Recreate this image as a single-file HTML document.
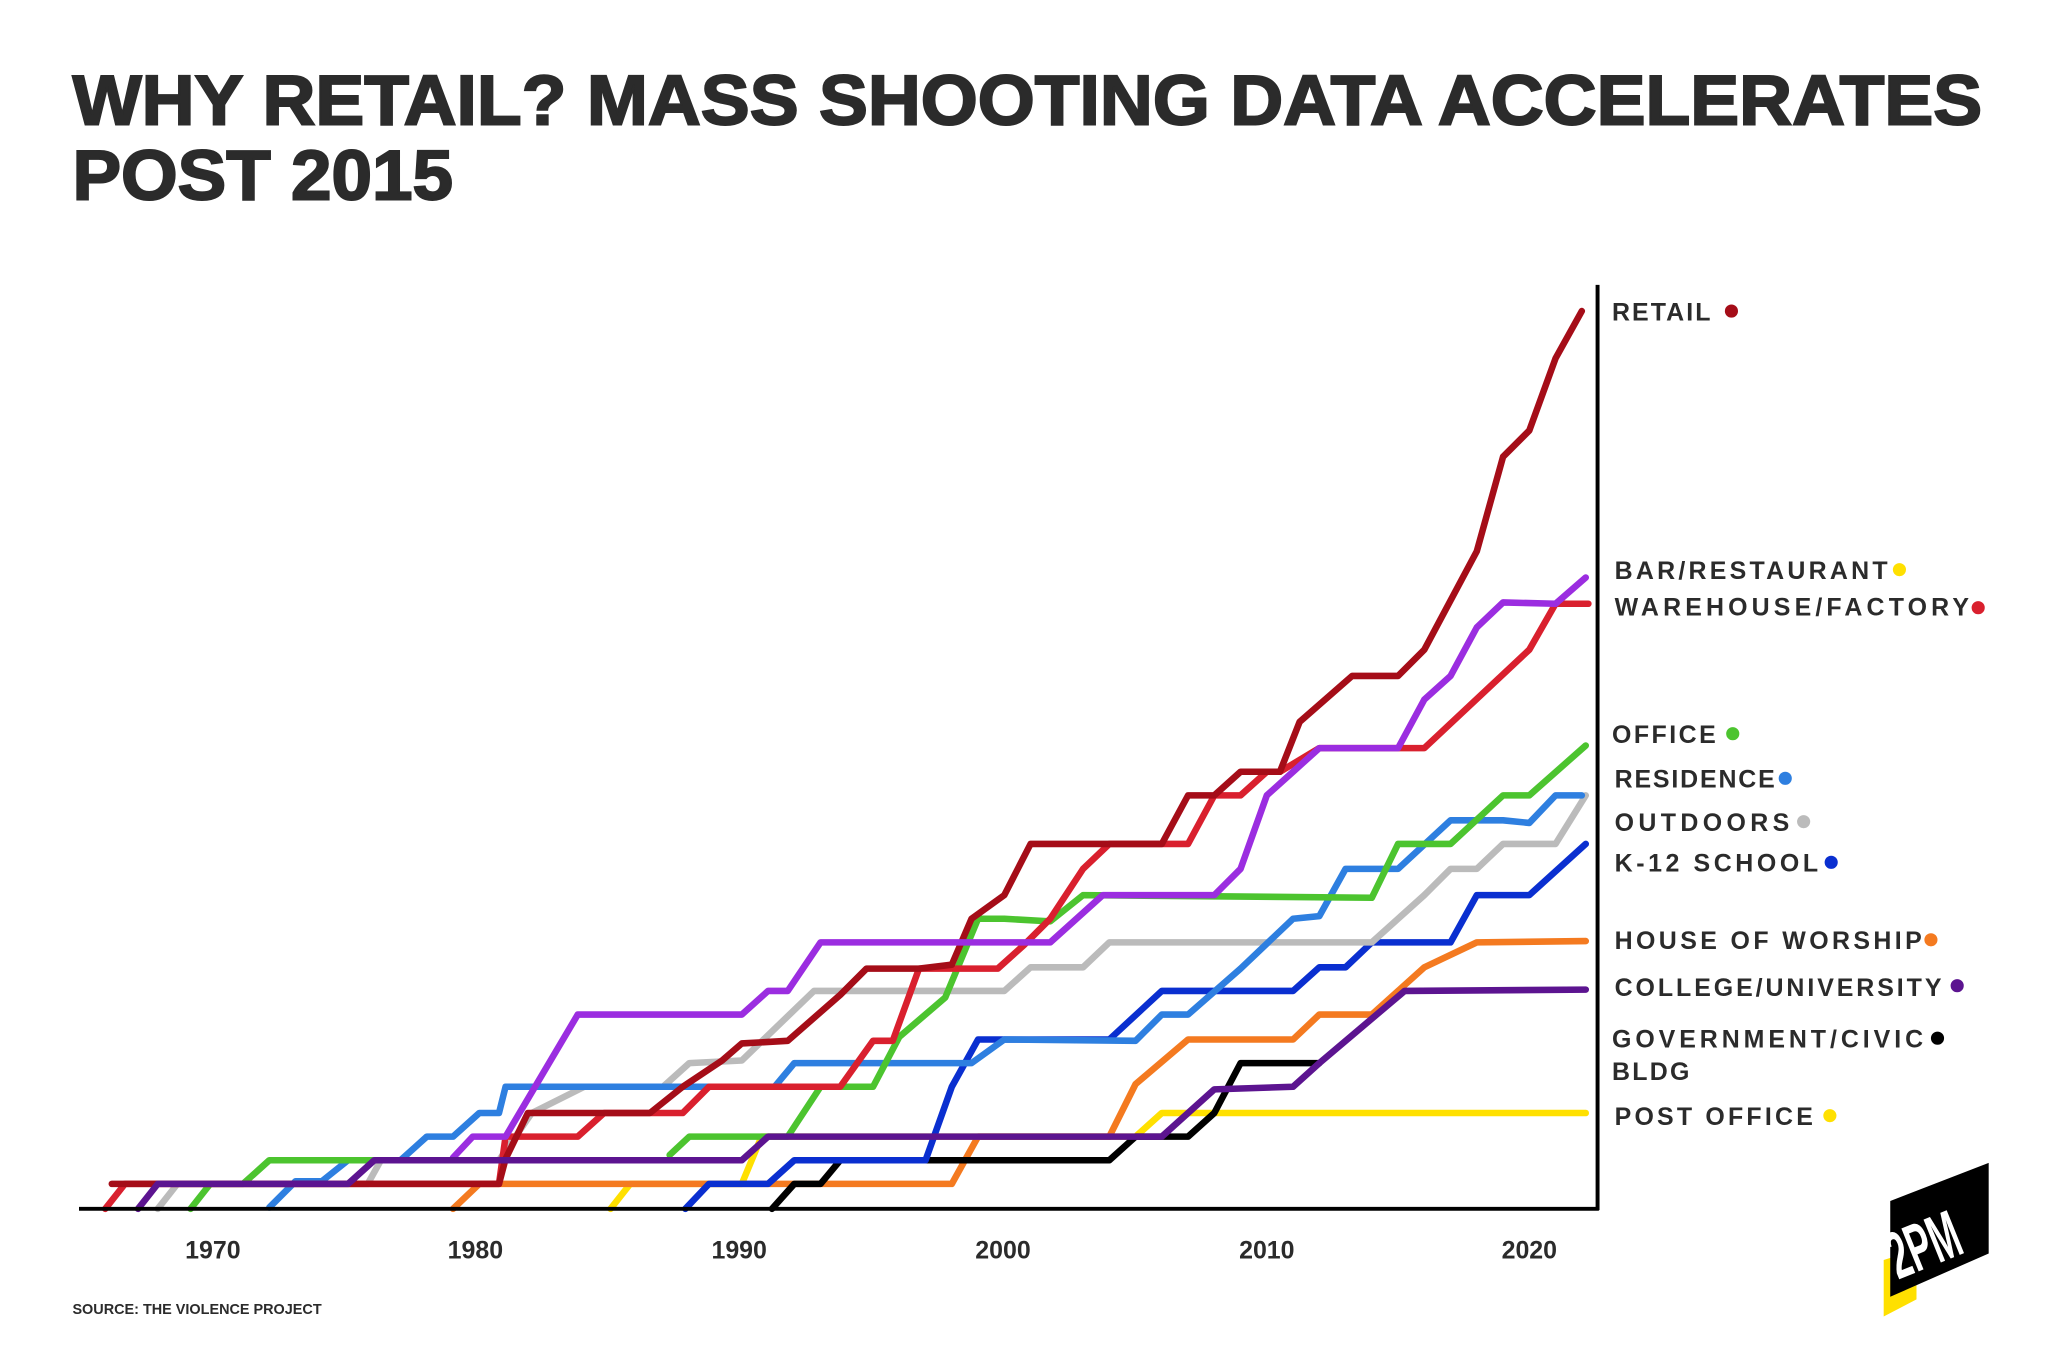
<!DOCTYPE html>
<html><head><meta charset="utf-8"><style>
html,body{margin:0;padding:0;background:#fff}
svg{display:block}
text{font-family:"Liberation Sans",sans-serif;font-weight:bold;fill:#2b2b2b}
</style></head><body>
<svg width="2048" height="1365" viewBox="0 0 1560 1040" xmlns="http://www.w3.org/2000/svg">
<rect width="1560" height="1040" fill="#fff"/>
<text x="55" y="95" font-size="54" textLength="1455" lengthAdjust="spacingAndGlyphs" stroke="#2b2b2b" stroke-width="1.5">WHY RETAIL? MASS SHOOTING DATA ACCELERATES</text>
<text x="55" y="152" font-size="54" textLength="290" lengthAdjust="spacingAndGlyphs" stroke="#2b2b2b" stroke-width="1.5">POST 2015</text>
<g fill="none" stroke-width="5" stroke-linejoin="round" stroke-linecap="round">
<polyline stroke="#ffe000" points="465,921 480,902 565,902 580,866 865,866 885,848 1208,848"/>
<polyline stroke="#f47a20" points="345,921 365,902 725,902 745,866 845,866 865,826 905,792 985,792 1005,773 1045,773 1065,755 1085,737 1125,718 1208,717"/>
<polyline stroke="#000" points="588,921 605,902 625,902 640,884 845,884 865,866 905,866 925,848 945,810 1005,810"/>
<polyline stroke="#0a2fd0" points="522,921 540,902 585,902 605,884 705,884 725,828 745,792 845,792 885,755 985,755 1005,737 1025,737 1045,718 1105,718 1125,682 1165,682 1208,643"/>
<polyline stroke="#bbbbbb" points="120,921 135,902 265,902 280,902 290,884 380,884 405,848 445,828 505,828 525,810 565,808 620,755 765,755 785,737 825,737 845,718 1045,718 1085,682 1105,662 1125,662 1145,643 1185,643 1208,606"/>
<polyline stroke="#2e7fe0" points="205,920 225,900 245,900 265,884 305,884 325,866 345,866 365,848 380,848 385,828 590,828 605,810 740,810 765,792 865,793 885,773 905,773 945,738 985,700 1005,698 1025,662 1065,662 1105,625 1145,625 1165,627 1185,606 1205,606"/>
<polyline stroke="#4cc42f" points="145,921 160,902 185,902 205,884 285,884"/>
<polyline stroke="#4cc42f" points="510,880 525,866 600,866 625,828 665,828 685,790 720,760 745,700 765,700 800,702 825,682 1045,684 1065,643 1105,643 1145,606 1165,606 1208,568"/>
<polyline stroke="#d9202e" points="80,921 95,902 380,902 385,866 440,866 460,848 520,848 540,828 640,828 665,793 680,793 700,738 760,738 780,720 800,700 825,662 845,643 905,643 925,606 945,606 965,588 975,588 1005,570 1085,570 1165,495 1185,460 1210,460"/>
<polyline stroke="#a50d18" points="85,902 380,902 385,883 402,848 495,848 520,828 550,808 565,795 600,793 640,758 660,738 700,738 725,735 740,700 765,682 785,643 885,643 905,606 925,606 945,588 975,588 990,550 1030,515 1065,515 1085,495 1125,420 1145,348 1165,328 1185,273 1205,237"/>
<polyline stroke="#9b2de0" points="345,882 360,866 385,866 440,773 565,773 585,755 600,755 625,718 800,718 840,682 925,682 945,662 965,606 985,588 1005,570 1065,570 1085,533 1105,515 1125,478 1145,459 1185,460 1208,440"/>
<polyline stroke="#5c1490" points="105,921 120,902 265,902 285,884 565,884 585,866 885,866 925,830 985,828 1005,810 1070,755 1208,754"/>
</g>
<line x1="1217" y1="217" x2="1217" y2="922" stroke="#000" stroke-width="3"/>
<line x1="60" y1="921" x2="1218" y2="921" stroke="#000" stroke-width="3"/>
<g font-size="19" text-anchor="middle">
<text x="162" y="959">1970</text><text x="362" y="959">1980</text><text x="563" y="959">1990</text>
<text x="764" y="959">2000</text><text x="965" y="959">2010</text><text x="1165" y="959">2020</text>
</g>
<g font-size="19" lengthAdjust="spacingAndGlyphs">
<text x="1228" y="244" textLength="75">RETAIL</text><circle cx="1319" cy="237" r="5" fill="#a50d18"/>
<text x="1230" y="441" textLength="208">BAR/RESTAURANT</text><circle cx="1447" cy="434" r="5" fill="#ffe000"/>
<text x="1230" y="469" textLength="270">WAREHOUSE/FACTORY</text><circle cx="1507" cy="463" r="5" fill="#d9202e"/>
<text x="1228" y="566" textLength="79">OFFICE</text><circle cx="1320" cy="559" r="5" fill="#4cc42f"/>
<text x="1230" y="600" textLength="122">RESIDENCE</text><circle cx="1360" cy="593" r="5" fill="#2e7fe0"/>
<text x="1230" y="633" textLength="133">OUTDOORS</text><circle cx="1374" cy="626" r="5" fill="#bbbbbb"/>
<text x="1230" y="664" textLength="155">K-12 SCHOOL</text><circle cx="1395" cy="657" r="5" fill="#0a2fd0"/>
<text x="1230" y="723" textLength="234">HOUSE OF WORSHIP</text><circle cx="1471" cy="716" r="5" fill="#f47a20"/>
<text x="1230" y="759" textLength="249">COLLEGE/UNIVERSITY</text><circle cx="1491" cy="751" r="5" fill="#5c1490"/>
<text x="1228" y="798" textLength="237">GOVERNMENT/CIVIC</text><circle cx="1476" cy="791" r="5" fill="#000"/>
<text x="1228" y="823" textLength="59">BLDG</text>
<text x="1230" y="857" textLength="151">POST OFFICE</text><circle cx="1394" cy="850" r="5" fill="#ffe000"/>
</g>
<text x="55" y="1001" font-size="11">SOURCE: THE VIOLENCE PROJECT</text>
<polygon points="1435,960 1460,952 1460,990 1435,1003" fill="#ffe000"/>
<polygon points="1440,915 1515,886 1515,955 1440,988" fill="#000"/>
<text x="0" y="0" font-size="32" style="fill:#fff" transform="translate(1446,975) rotate(-22) scale(0.85,1.6)">2PM</text>
</svg>
</body></html>
